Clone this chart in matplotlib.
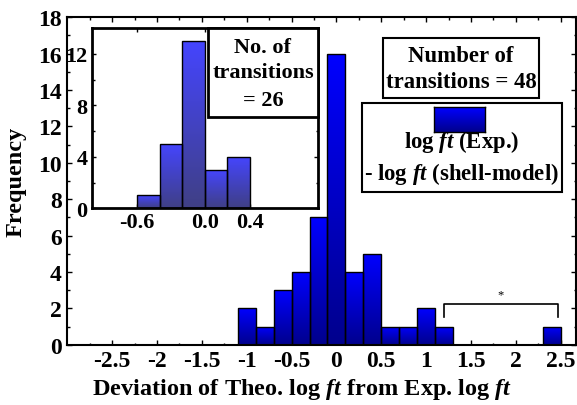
import numpy as np
import matplotlib
matplotlib.use("Agg")
import matplotlib.pyplot as plt
from matplotlib.patches import Rectangle
from matplotlib.colors import LinearSegmentedColormap

plt.rcParams['font.family'] = ['Liberation Serif', 'DejaVu Serif']
plt.rcParams['font.weight'] = 'bold'
plt.rcParams['mathtext.fontset'] = 'custom'
plt.rcParams['mathtext.rm'] = 'Liberation Serif:bold'
plt.rcParams['mathtext.it'] = 'Liberation Serif:italic:bold'
plt.rcParams['mathtext.bf'] = 'Liberation Serif:bold'
plt.rcParams['axes.unicode_minus'] = False

# ---- data ----
main_centers = [-1.0, -0.8, -0.6, -0.4, -0.2, 0.0, 0.2, 0.4, 0.6, 0.8, 1.0, 1.2, 2.4]
main_counts = [2, 1, 3, 4, 7, 16, 4, 5, 1, 1, 2, 1, 1]
bin_width = 0.2
main_xticks = [-2.5, -2, -1.5, -1, -0.5, 0, 0.5, 1, 1.5, 2, 2.5]
main_xticklabels = ["-2.5", "-2", "-1.5", "-1", "-0.5", "0", "0.5", "1", "1.5", "2", "2.5"]
main_yticks = [0, 2, 4, 6, 8, 10, 12, 14, 16, 18]

inset_centers = [-0.5, -0.3, -0.1, 0.1, 0.3]
inset_counts = [1, 5, 13, 3, 4]
inset_xticks = [-0.6, 0.0, 0.4]
inset_xticklabels = ["-0.6", "0.0", "0.4"]
inset_yticks = [0, 4, 8, 12]

W, H = 577, 406
fig = plt.figure(figsize=(W / 100, H / 100), dpi=100)

def fx(px):
    return px / W

def fy(py):
    return 1 - py / H

main_cmap = LinearSegmentedColormap.from_list("m", [(0, 0, 0.55), (0, 0, 1.0)])
inset_cmap = LinearSegmentedColormap.from_list("i", [(0.25, 0.25, 0.52), (0.27, 0.27, 1.0)])

def gradient_bars(ax, centers, counts, cmap):
    bars = ax.bar(centers, counts, width=bin_width, facecolor='none',
                  edgecolor='black', linewidth=1.0, zorder=3)
    grad = np.linspace(0, 1, 256).reshape(-1, 1)
    for b in bars:
        x0, y0 = b.get_x(), b.get_y()
        w, h = b.get_width(), b.get_height()
        im = ax.imshow(grad, extent=[x0, x0 + w, y0, y0 + h], origin='lower',
                       cmap=cmap, aspect='auto', zorder=2)
        im.set_clip_path(b)
    return bars

TICK_FS = 17

# ---- main axes ----
AX_L, AX_R, AX_T, AX_B = 67.3, 576, 18.3, 345.7
ax = fig.add_axes([fx(AX_L), fy(AX_B), fx(AX_R) - fx(AX_L), fy(AX_T) - fy(AX_B)])
gradient_bars(ax, main_centers, main_counts, main_cmap)
ax.set_xlim(-3.0, 2.67)
ax.set_ylim(0, 18)
ax.set_xticks(main_xticks)
ax.set_xticklabels(main_xticklabels)
ax.set_xticks(np.arange(-2.75, 2.6, 0.25), minor=True)
ax.set_yticks(main_yticks)
ax.set_yticks(np.arange(0, 18.1, 1), minor=True)
ax.tick_params(which='both', direction='in', top=True, right=True, width=1.0, labelsize=TICK_FS)
ax.tick_params(which='major', length=3.5, pad=4)
ax.tick_params(which='minor', length=1.8)
for s in ax.spines.values():
    s.set_linewidth(1.5)
for lab in ax.get_xticklabels() + ax.get_yticklabels():
    lab.set_fontweight('bold')
ax.set_xlabel("Deviation of Theo. log $ft$ from Exp. log $ft$", fontsize=17.5, fontweight='bold')
ax.xaxis.set_label_coords((302.5 - AX_L) / (AX_R - AX_L), -(390 - AX_B) / (AX_B - AX_T))
ax.xaxis.label.set_va('center')
ax.set_ylabel("Frequency", fontsize=17.5, fontweight='bold')
ax.yaxis.set_label_coords(-(AX_L - 16) / (AX_R - AX_L), 0.5)
ax.yaxis.label.set_va('center')

# bracket
ax.plot([1.2, 1.2, 2.47, 2.47], [1.55, 2.24, 2.24, 1.55], color='black', lw=1.2, zorder=4)
ax.text(1.83, 2.45, "*", ha='center', va='bottom', fontsize=9, fontweight='normal')

# ---- boxes on main ----
def box(x0, y0, x1, y1, lw):
    r = Rectangle((fx(x0), fy(y1)), fx(x1) - fx(x0), fy(y0) - fy(y1),
                  transform=fig.transFigure, facecolor='white', edgecolor='black',
                  linewidth=lw, zorder=10)
    fig.patches.append(r)

BOX_FS = 16.4
box(382.7, 39.3, 539, 99.3, 1.5)
fig.text(fx(461), fy(57), "Number of", ha='center', va='center', fontsize=BOX_FS, fontweight='bold', zorder=11)
fig.text(fx(461), fy(82), "transitions = 48", ha='center', va='center', fontsize=BOX_FS, fontweight='bold', zorder=11)

box(362.3, 104.3, 561.7, 193.3, 1.5)
sw_ax = fig.add_axes([fx(434), fy(133.3), fx(484.7) - fx(434), fy(108.3) - fy(133.3)], zorder=12)
sw_ax.imshow(np.linspace(0, 1, 64).reshape(-1, 1), origin='lower', cmap=main_cmap, aspect='auto',
             extent=[0, 1, 0, 1])
sw_ax.set_xticks([]); sw_ax.set_yticks([])
for s in sw_ax.spines.values():
    s.set_linewidth(1.0)
fig.text(fx(462), fy(142), "log $ft$ (Exp.)", ha='center', va='center', fontsize=BOX_FS, fontweight='bold', zorder=11)
fig.text(fx(461), fy(174), "- log $ft$ (shell-model)", ha='center', va='center', fontsize=BOX_FS, fontweight='bold', zorder=11)

# ---- inset ----
ins = fig.add_axes([fx(91.7), fy(209.3), fx(318) - fx(91.7), fy(29) - fy(209.3)], zorder=5)
gradient_bars(ins, inset_centers, inset_counts, inset_cmap)
ins.set_xlim(-1.0, 1.0)
ins.set_ylim(0, 14)
ins.set_xticks(inset_xticks)
ins.set_xticklabels(inset_xticklabels)
ins.set_yticks(inset_yticks)
ins.set_yticks([2, 6, 10], minor=True)
ins.tick_params(which='both', direction='in', top=True, right=True, width=1.0, labelsize=16)
ins.tick_params(which='major', length=3, pad=3)
ins.tick_params(which='minor', length=1.8)
for s in ins.spines.values():
    s.set_linewidth(2.0)
for lab in ins.get_xticklabels() + ins.get_yticklabels():
    lab.set_fontweight('bold')

# inset box
r = Rectangle((fx(208), fy(118)), fx(318) - fx(208), fy(29) - fy(118),
              transform=fig.transFigure, facecolor='white', edgecolor='black',
              linewidth=2.0, zorder=20)
fig.patches.append(r)
fig.text(fx(263), fy(48), "No. of", ha='center', va='center', fontsize=16, fontweight='bold', zorder=21)
fig.text(fx(263), fy(73), "transitions", ha='center', va='center', fontsize=16, fontweight='bold', zorder=21)
fig.text(fx(263), fy(101), "= 26", ha='center', va='center', fontsize=16, fontweight='bold', zorder=21)

fig.savefig("out.png", dpi=100)
